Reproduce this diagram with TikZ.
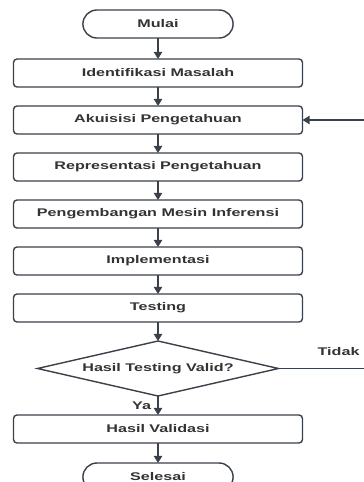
\documentclass[tikz,border=0pt]{standalone}
\usepackage{fontspec}
\setmainfont{Liberation Sans}[FakeStretch=1.45]
\usetikzlibrary{arrows.meta, positioning, shapes.geometric, shapes.misc}
\definecolor{garis}{HTML}{3B4149}
\definecolor{teks}{HTML}{333333}

\begin{document}
\begin{tikzpicture}[
    font=\fontsize{9.5}{11}\selectfont\bfseries,
    proses/.style={draw=garis, line width=1.2pt, outer sep=0pt, rounded corners=3pt, minimum width=8.67cm, minimum height=0.84cm, text=teks},
    terminal/.style={rounded rectangle, draw=garis, line width=1.2pt, outer sep=0pt, minimum width=4.74cm, minimum height=0.84cm, text=teks},
    keputusan/.style={diamond, draw=garis, line width=1.2pt, outer sep=0pt, aspect=4.4, inner sep=0pt, minimum width=7.23cm, minimum height=1.65cm, text=teks},
    panah/.style={draw=garis, line width=1.3pt, -{Triangle[width=7pt, length=6pt]}},
    ket/.style={text=teks}
]
    \useasboundingbox (0,0) rectangle (10.92,-14.46);
    \clip (0,0) rectangle (10.92,-14.46);
    % alur utama
    \node[terminal] (mulai) at (4.74,-0.72) {Mulai};
    \node[proses, below=0.63cm of mulai] (identifikasi) {Identifikasi Masalah};
    \node[proses, below=0.57cm of identifikasi] (akuisisi) {Akuisisi Pengetahuan};
    \node[proses, below=0.57cm of akuisisi] (representasi) {Representasi Pengetahuan};
    \node[proses, below=0.57cm of representasi] (inferensi) {Pengembangan Mesin Inferensi};
    \node[proses, below=0.57cm of inferensi] (implementasi) {Implementasi};
    \node[proses, below=0.57cm of implementasi] (testing) {Testing};
    \node[keputusan, below=0.57cm of testing] (cek) {Hasil Testing Valid?};
    \node[proses, below=0.57cm of cek] (validasi) {Hasil Validasi};
    \node[terminal, below=0.6cm of validasi] (selesai) {Selesai};
    \draw[panah] (mulai) -- (identifikasi);
    \draw[panah] (identifikasi) -- (akuisisi);
    \draw[panah] (akuisisi) -- (representasi);
    \draw[panah] (representasi) -- (inferensi);
    \draw[panah] (inferensi) -- (implementasi);
    \draw[panah] (implementasi) -- (testing);
    \draw[panah] (testing) -- (cek);
    \draw[panah] (cek) -- node[ket, left=2pt] {Ya} (validasi);
    \draw[panah] (validasi) -- (selesai);
    % kembali ke akuisisi
    \draw[panah] (cek.east) -- node[ket, pos=0.53, above=0.25cm] {Tidak} ++(3.4,0) |- (akuisisi.east);
\end{tikzpicture}
\end{document}
